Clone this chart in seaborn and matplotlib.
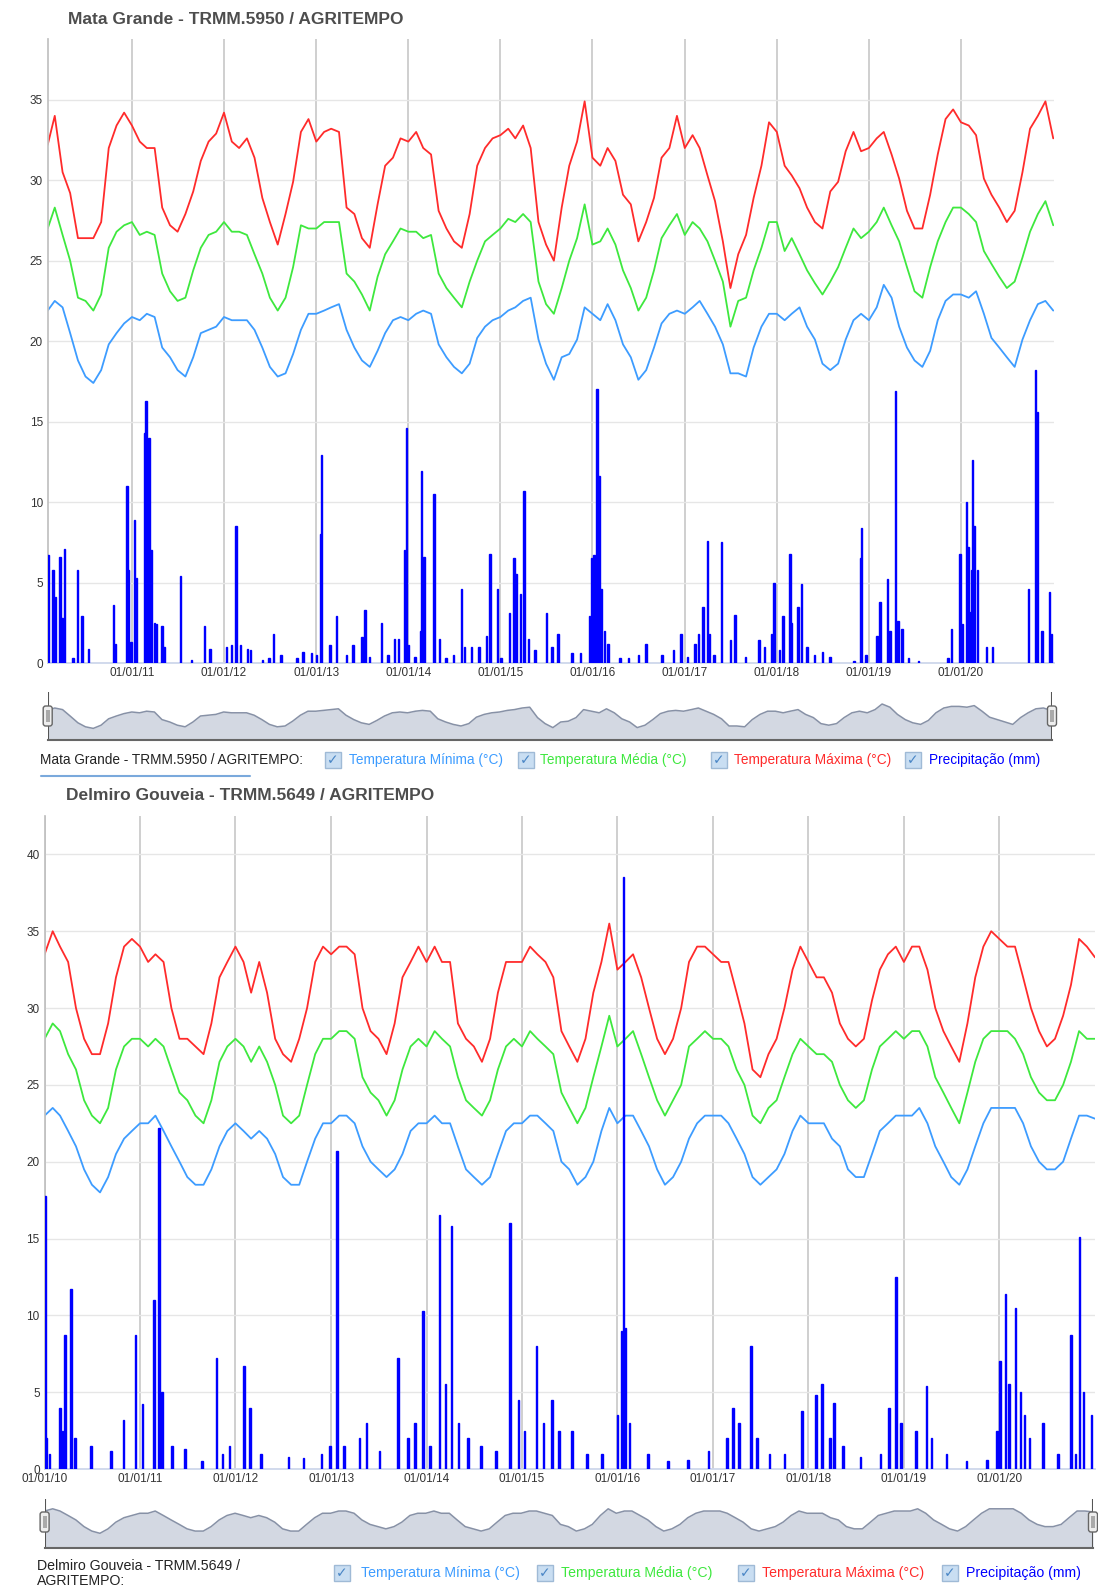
import pandas as pd
import matplotlib
matplotlib.use("Agg")
import matplotlib.pyplot as plt
import matplotlib.dates as mdates
from matplotlib.patches import FancyBboxPatch, Rectangle
from matplotlib.lines import Line2D
import seaborn as sns

# --------------------------
# Data: Mata Grande (monthly readings, Feb/2010 .. Jan/2021)
# --------------------------
mg_months = pd.date_range("2010-02-01", "2021-01-01", freq="MS")

mg_tmax = [32.2, 34.0, 30.5, 29.2, 26.4, 26.4, 26.4, 27.4, 32.0, 33.4, 34.2,
           33.4, 32.4, 32.0, 32.0, 28.3, 27.2, 26.8, 27.9, 29.3, 31.2, 32.4, 32.9,
           34.2, 32.4, 32.0, 32.6, 31.4, 28.9, 27.4, 26.0, 27.9, 29.9, 33.0, 33.8,
           32.4, 33.0, 33.2, 33.0, 28.3, 27.9, 26.4, 25.8, 28.5, 30.9, 31.4, 32.6,
           32.4, 33.0, 32.0, 31.6, 28.1, 27.0, 26.2, 25.8, 27.9, 30.9, 32.0, 32.6,
           32.8, 33.2, 32.6, 33.4, 32.0, 27.4, 26.0, 25.0, 28.3, 30.9, 32.4, 34.9,
           31.4, 30.9, 32.0, 31.2, 29.1, 28.5, 26.2, 27.4, 28.9, 31.4, 32.0, 34.0,
           32.0, 32.8, 32.0, 30.3, 28.7, 26.2, 23.3, 25.4, 26.6, 28.9, 30.9, 33.6,
           33.0, 30.9, 30.3, 29.5, 28.3, 27.4, 27.0, 29.3, 29.9, 31.8, 33.0, 31.8,
           32.0, 32.6, 33.0, 31.6, 30.1, 28.1, 27.0, 27.0, 29.1, 31.6, 33.8, 34.4,
           33.6, 33.4, 32.8, 30.1, 29.1, 28.3, 27.4, 28.1, 30.5, 33.2, 34.0, 34.9,
           32.6]

mg_tmed = [27.0, 28.3, 26.6, 25.0, 22.7, 22.5, 21.9, 22.9, 25.8, 26.8, 27.2,
           27.4, 26.6, 26.8, 26.6, 24.2, 23.1, 22.5, 22.7, 24.4, 25.8, 26.6, 26.8,
           27.4, 26.8, 26.8, 26.6, 25.4, 24.2, 22.7, 21.9, 22.7, 24.6, 27.2, 27.0,
           27.0, 27.4, 27.4, 27.4, 24.2, 23.7, 22.9, 21.9, 24.0, 25.4, 26.2, 27.0,
           26.8, 26.8, 26.4, 26.6, 24.2, 23.3, 22.7, 22.1, 23.7, 25.0, 26.2, 26.6,
           27.0, 27.6, 27.4, 27.9, 27.4, 23.7, 22.3, 21.7, 23.3, 25.0, 26.4, 28.5,
           26.0, 26.2, 27.0, 26.0, 24.4, 23.3, 21.9, 22.7, 24.4, 26.4, 27.2, 27.9,
           26.6, 27.4, 27.0, 26.2, 25.0, 23.7, 20.9, 22.5, 22.7, 24.4, 25.8, 27.4,
           27.4, 25.6, 26.4, 25.4, 24.4, 23.6, 22.9, 23.7, 24.6, 25.8, 27.0, 26.4,
           26.8, 27.4, 28.3, 27.2, 26.2, 24.6, 23.1, 22.7, 24.6, 26.2, 27.4, 28.3,
           28.3, 27.9, 27.4, 25.6, 24.8, 24.0, 23.3, 23.7, 25.2, 26.8, 27.9, 28.7,
           27.2]

mg_tmin = [21.9, 22.5, 22.1, 20.5, 18.8, 17.8, 17.4, 18.2, 19.8, 20.5, 21.1,
           21.5, 21.3, 21.7, 21.5, 19.6, 19.0, 18.2, 17.8, 19.0, 20.5, 20.7, 20.9,
           21.5, 21.3, 21.3, 21.3, 20.7, 19.6, 18.4, 17.8, 18.0, 19.2, 20.7, 21.7,
           21.7, 21.9, 22.1, 22.3, 20.7, 19.6, 18.8, 18.4, 19.4, 20.5, 21.3, 21.5,
           21.3, 21.7, 21.9, 21.7, 19.8, 19.0, 18.4, 18.0, 18.6, 20.2, 20.9, 21.3,
           21.5, 21.9, 22.1, 22.5, 22.7, 20.1, 18.6, 17.6, 19.0, 19.2, 20.1, 22.1,
           21.7, 21.3, 22.3, 21.3, 19.8, 19.0, 17.6, 18.2, 19.6, 21.1, 21.7, 21.9,
           21.7, 22.1, 22.5, 21.7, 20.9, 19.8, 18.0, 18.0, 17.8, 19.6, 20.9, 21.7,
           21.7, 21.3, 21.7, 22.1, 20.9, 20.1, 18.6, 18.2, 18.6, 20.1, 21.3, 21.7,
           21.3, 22.1, 23.5, 22.7, 20.9, 19.6, 18.8, 18.4, 19.4, 21.3, 22.5, 22.9,
           22.9, 22.7, 23.1, 21.7, 20.2, 19.6, 19.0, 18.4, 20.1, 21.3, 22.3, 22.5,
           21.9]

mg_rain_dates = [
    "2010-02-03", "2010-02-23", "2010-03-04", "2010-03-22", "2010-03-29", "2010-04-09",
    "2010-05-12", "2010-05-30", "2010-06-17", "2010-07-13", "2010-10-19", "2010-10-27",
    "2010-12-13", "2010-12-17", "2010-12-28", "2011-01-11", "2011-01-19", "2011-02-22",
    "2011-02-25", "2011-03-10", "2011-03-17", "2011-04-01", "2011-04-08", "2011-05-01",
    "2011-05-08", "2011-07-13", "2011-08-26", "2011-10-16", "2011-11-07", "2012-01-11",
    "2012-01-30", "2012-02-17", "2012-03-06", "2012-04-04", "2012-04-15", "2012-06-02",
    "2012-06-28", "2012-07-16", "2012-08-14", "2012-10-16", "2012-11-10", "2012-12-13",
    "2013-01-02", "2013-01-18", "2013-01-22", "2013-02-25", "2013-03-23", "2013-05-01",
    "2013-05-26", "2013-07-02", "2013-07-13", "2013-07-31", "2013-09-17", "2013-10-12",
    "2013-11-07", "2013-11-22", "2013-12-17", "2013-12-24", "2014-01-01", "2014-01-27",
    "2014-02-18", "2014-02-22", "2014-03-04", "2014-04-13", "2014-05-05", "2014-05-31",
    "2014-06-29", "2014-07-31", "2014-08-11", "2014-09-09", "2014-10-08", "2014-11-06",
    "2014-11-21", "2014-12-20", "2015-01-04", "2015-02-06", "2015-02-24", "2015-03-04",
    "2015-03-22", "2015-04-05", "2015-04-23", "2015-05-19", "2015-07-02", "2015-07-24",
    "2015-08-18", "2015-10-12", "2015-11-14", "2015-12-20", "2015-12-28", "2016-01-08",
    "2016-01-19", "2016-01-26", "2016-02-03", "2016-02-17", "2016-03-03", "2016-04-20",
    "2016-05-23", "2016-07-02", "2016-07-31", "2016-10-02", "2016-11-18", "2016-12-17",
    "2017-01-11", "2017-02-10", "2017-02-25", "2017-03-15", "2017-04-02", "2017-04-09",
    "2017-04-27", "2017-05-26", "2017-07-02", "2017-07-20", "2017-08-29", "2017-10-23",
    "2017-11-14", "2017-12-10", "2017-12-21", "2018-01-11", "2018-01-26", "2018-02-22",
    "2018-02-28", "2018-03-25", "2018-04-09", "2018-05-01", "2018-05-31", "2018-07-02",
    "2018-07-31", "2018-11-03", "2018-11-28", "2018-12-02", "2018-12-20", "2019-02-03",
    "2019-02-14", "2019-03-15", "2019-03-26", "2019-04-16", "2019-04-27", "2019-05-12",
    "2019-06-07", "2019-07-16", "2019-11-10", "2019-11-25", "2019-12-28", "2020-01-08",
    "2020-01-23", "2020-01-30", "2020-02-07", "2020-02-11", "2020-02-15", "2020-02-21",
    "2020-03-07", "2020-04-12", "2020-05-05", "2020-09-24", "2020-10-23", "2020-10-30",
    "2020-11-18", "2020-12-17", "2020-12-25"]
mg_rain = [6.7, 5.8, 4.1, 6.6, 2.8, 7.1,
           0.3, 5.8, 2.9, 0.9, 3.6, 1.2,
           11.0, 5.8, 1.3, 8.9, 5.3, 14.3,
           16.3, 14.0, 7.0, 2.5, 2.4, 2.3,
           1.0, 5.4, 0.2, 2.3, 0.9, 1.0,
           1.1, 8.5, 1.1, 0.9, 0.8, 0.2,
           0.3, 1.8, 0.5, 0.3, 0.7, 0.6,
           0.5, 8.0, 12.9, 1.1, 2.9, 0.5,
           1.1, 1.6, 3.3, 0.4, 2.5, 0.5,
           1.5, 1.5, 7.0, 14.6, 1.1, 0.4,
           2.0, 11.9, 6.6, 10.5, 1.5, 0.3,
           0.5, 4.6, 1.0, 1.0, 1.0, 1.7,
           6.8, 4.6, 0.3, 3.1, 6.5, 5.5,
           4.3, 10.7, 1.5, 0.8, 3.1, 1.0,
           1.8, 0.6, 0.6, 2.9, 6.5, 6.7,
           17.0, 11.6, 4.6, 2.0, 1.2, 0.3,
           0.3, 0.5, 1.2, 0.5, 0.8, 1.8,
           0.4, 1.2, 1.8, 3.5, 7.6, 1.8,
           0.5, 7.5, 1.4, 3.0, 0.4, 1.4,
           1.0, 1.8, 5.0, 0.8, 2.9, 6.8,
           2.5, 3.5, 4.9, 1.0, 0.5, 0.7,
           0.4, 0.1, 6.5, 8.4, 0.5, 1.7,
           3.8, 5.2, 2.0, 16.9, 2.6, 2.1,
           0.3, 0.1, 0.3, 2.1, 6.8, 2.4,
           10.0, 7.2, 3.2, 5.8, 12.6, 8.5,
           5.8, 1.0, 1.0, 4.6, 18.2, 15.6,
           2.0, 4.4, 1.8]

# --------------------------
# Data: Delmiro Gouveia (monthly readings, Jan/2010 .. Jan/2021)
# --------------------------
dg_months = pd.date_range("2010-01-01", "2021-01-01", freq="MS")

dg_tmax = [33.5, 35.0, 34.0, 33.0, 30.0, 28.0, 27.0, 27.0, 29.0, 32.0, 34.0, 34.5,
           34.0, 33.0, 33.5, 33.0, 30.0, 28.0, 28.0, 27.5, 27.0, 29.0, 32.0, 33.0,
           34.0, 33.0, 31.0, 33.0, 31.0, 28.0, 27.0, 26.5, 28.0, 30.0, 33.0, 34.0,
           33.5, 34.0, 34.0, 33.5, 30.0, 28.5, 28.0, 27.0, 29.0, 32.0, 33.0, 34.0,
           33.0, 34.0, 33.0, 33.0, 29.0, 28.0, 27.5, 26.5, 28.0, 31.0, 33.0, 33.0,
           33.0, 34.0, 33.5, 33.0, 32.0, 28.5, 27.5, 26.5, 28.0, 31.0, 33.0, 35.5,
           32.5, 33.0, 33.5, 32.0, 30.0, 28.0, 27.0, 28.0, 30.0, 33.0, 34.0, 34.0,
           33.5, 33.0, 33.0, 31.0, 29.0, 26.0, 25.5, 27.0, 28.0, 30.0, 32.5, 34.0,
           33.0, 32.0, 32.0, 31.0, 29.0, 28.0, 27.5, 28.0, 30.5, 32.5, 33.5, 34.0,
           33.0, 34.0, 34.0, 32.5, 30.0, 28.5, 27.5, 26.5, 29.0, 32.0, 34.0, 35.0,
           34.5, 34.0, 34.0, 32.0, 30.0, 28.5, 27.5, 28.0, 29.5, 31.5, 34.5, 34.0,
           33.3]

dg_tmed = [28.0, 29.0, 28.5, 27.0, 26.0, 24.0, 23.0, 22.5, 23.5, 26.0, 27.5, 28.0,
           28.0, 27.5, 28.0, 27.5, 26.0, 24.5, 24.0, 23.0, 22.5, 24.0, 26.5, 27.5,
           28.0, 27.5, 26.5, 27.5, 26.5, 25.0, 23.0, 22.5, 23.0, 25.0, 27.0, 28.0,
           28.0, 28.5, 28.5, 28.0, 25.5, 24.5, 24.0, 23.0, 24.0, 26.0, 27.5, 28.0,
           27.5, 28.5, 28.0, 27.5, 25.5, 24.0, 23.5, 23.0, 24.0, 26.0, 27.5, 28.0,
           27.5, 28.5, 28.0, 27.5, 27.0, 24.5, 23.5, 22.5, 23.5, 25.5, 27.5, 29.5,
           27.5, 28.0, 28.5, 27.0, 25.5, 24.0, 23.0, 24.0, 25.0, 27.5, 28.0, 28.5,
           28.0, 28.0, 27.5, 26.0, 25.0, 23.0, 22.5, 23.5, 24.0, 25.5, 27.0, 28.0,
           27.5, 27.0, 27.0, 26.5, 25.0, 24.0, 23.5, 24.0, 26.0, 27.5, 28.0, 28.5,
           28.0, 28.5, 28.5, 27.5, 25.5, 24.5, 23.5, 22.5, 24.5, 26.5, 28.0, 28.5,
           28.5, 28.5, 28.0, 27.0, 25.5, 24.5, 24.0, 24.0, 25.0, 26.5, 28.5, 28.0,
           28.0]

dg_tmin = [23.0, 23.5, 23.0, 22.0, 21.0, 19.5, 18.5, 18.0, 19.0, 20.5, 21.5, 22.0,
           22.5, 22.5, 23.0, 22.0, 21.0, 20.0, 19.0, 18.5, 18.5, 19.5, 21.0, 22.0,
           22.5, 22.0, 21.5, 22.0, 21.5, 20.5, 19.0, 18.5, 18.5, 20.0, 21.5, 22.5,
           22.5, 23.0, 23.0, 22.5, 21.0, 20.0, 19.5, 19.0, 19.5, 20.5, 22.0, 22.5,
           22.5, 23.0, 22.5, 22.5, 21.0, 19.5, 19.0, 18.5, 19.0, 20.5, 22.0, 22.5,
           22.5, 23.0, 23.0, 22.5, 22.0, 20.0, 19.5, 18.5, 19.0, 20.0, 22.0, 23.5,
           22.5, 23.0, 23.0, 22.0, 21.0, 19.5, 18.5, 19.0, 20.0, 21.5, 22.5, 23.0,
           23.0, 23.0, 22.5, 21.5, 20.5, 19.0, 18.5, 19.0, 19.5, 20.5, 22.0, 23.0,
           22.5, 22.5, 22.5, 21.5, 21.0, 19.5, 19.0, 19.0, 20.5, 22.0, 22.5, 23.0,
           23.0, 23.0, 23.5, 22.5, 21.0, 20.0, 19.0, 18.5, 19.5, 21.0, 22.5, 23.5,
           23.5, 23.5, 23.5, 22.5, 21.0, 20.0, 19.5, 19.5, 20.0, 21.5, 23.0, 23.0,
           22.8]

dg_rain_dates = [
    "2010-01-02", "2010-01-06", "2010-01-20", "2010-02-28", "2010-03-10", "2010-03-21",
    "2010-04-13", "2010-04-28", "2010-06-27", "2010-09-13", "2010-10-29", "2010-12-15",
    "2011-01-11", "2011-02-23", "2011-03-14", "2011-03-25", "2011-05-03", "2011-06-22",
    "2011-08-27", "2011-10-20", "2011-11-12", "2011-12-09", "2012-02-02", "2012-02-25",
    "2012-04-08", "2012-07-22", "2012-09-18", "2012-11-26", "2012-12-28", "2013-01-24",
    "2013-02-20", "2013-04-19", "2013-05-16", "2013-07-05", "2013-09-13", "2013-10-22",
    "2013-11-18", "2013-12-19", "2014-01-15", "2014-02-19", "2014-03-14", "2014-04-07",
    "2014-05-04", "2014-06-08", "2014-07-28", "2014-09-24", "2014-11-17", "2014-12-18",
    "2015-01-10", "2015-02-26", "2015-03-25", "2015-04-25", "2015-05-22", "2015-07-11",
    "2015-09-07", "2015-11-04", "2016-01-01", "2016-01-16", "2016-01-24", "2016-02-01",
    "2016-02-16", "2016-04-27", "2016-07-13", "2016-09-28", "2016-12-15", "2017-02-23",
    "2017-03-18", "2017-04-10", "2017-05-27", "2017-06-19", "2017-08-05", "2017-10-02",
    "2017-12-07", "2018-01-30", "2018-02-22", "2018-03-25", "2018-04-09", "2018-05-14",
    "2018-07-19", "2018-10-04", "2018-11-04", "2018-12-01", "2018-12-20", "2019-02-17",
    "2019-03-28", "2019-04-16", "2019-06-13", "2019-08-29", "2019-11-15", "2019-12-24",
    "2020-01-04", "2020-01-24", "2020-02-08", "2020-03-03", "2020-03-22", "2020-04-07",
    "2020-04-26", "2020-06-16", "2020-08-13", "2020-10-02", "2020-10-18", "2020-11-02",
    "2020-11-18", "2020-12-18"]
dg_rain = [17.8, 2.0, 1.0, 4.0, 2.5, 8.7,
           11.7, 2.0, 1.5, 1.2, 3.2, 8.7,
           4.2, 11.0, 22.2, 5.0, 1.5, 1.3,
           0.5, 7.2, 1.0, 1.5, 6.7, 4.0,
           1.0, 0.8, 0.7, 1.0, 1.5, 20.7,
           1.5, 2.0, 3.0, 1.2, 7.2, 2.0,
           3.0, 10.3, 1.5, 16.5, 5.5, 15.8,
           3.0, 2.0, 1.5, 1.2, 16.0, 4.5,
           2.5, 8.0, 3.0, 4.5, 2.5, 2.5,
           1.0, 1.0, 3.5, 9.0, 38.5, 9.2,
           3.0, 1.0, 0.5, 0.6, 1.2, 2.0,
           4.0, 3.0, 8.0, 2.0, 1.0, 1.0,
           3.8, 4.8, 5.5, 2.0, 4.3, 1.5,
           0.8, 1.0, 4.0, 12.5, 3.0, 2.5,
           5.4, 2.0, 1.0, 0.5, 0.6, 2.5,
           7.0, 11.4, 5.5, 10.5, 5.0, 3.5,
           2.0, 3.0, 1.0, 8.7, 1.0, 15.1,
           5.0, 3.5]

series_names = ["Temperatura Mínima (°C)", "Temperatura Média (°C)",
                "Temperatura Máxima (°C)", "Precipitação (mm)"]
series_colors = ["#3d9cff", "#3ee83e", "#ff2b2b", "#0000ff"]

# --------------------------
# Figure setup
# --------------------------
sns.set_theme(style="white")
plt.rcParams['font.family'] = ['Liberation Sans', 'DejaVu Sans']

W, H = 1098, 1589
fig = plt.figure(figsize=(W / 100, H / 100), dpi=100)


def px_axes(x0, y0, x1, y1):
    return fig.add_axes([x0 / W, 1 - y1 / H, (x1 - x0) / W, (y1 - y0) / H])


def draw_panel(box, months, tmin, tmed, tmax, rdates, rain, xlim, ylim, yticks, years):
    ax = px_axes(*box)
    for vals, col in zip([tmin, tmed, tmax], series_colors[:3]):
        sns.lineplot(x=months, y=vals, ax=ax, color=col, linewidth=1.3)
    ax.bar(pd.to_datetime(rdates), rain, width=6, color=series_colors[3],
           edgecolor=series_colors[3], linewidth=1.0, zorder=3)
    ax.set_xlim(pd.Timestamp(xlim[0]), pd.Timestamp(xlim[1]))
    ax.set_ylim(*ylim)
    ax.set_yticks(yticks)
    ax.set_xticks([pd.Timestamp(f"{y}-01-01") for y in years])
    ax.xaxis.set_major_formatter(mdates.DateFormatter("%d/%m/%y"))
    ax.set_xlabel("")
    ax.set_ylabel("")
    ax.set_axisbelow(True)
    ax.grid(axis="y", color="#e6e6e6", lw=1)
    ax.grid(axis="x", color="#cccccc", lw=1.3)
    ax.tick_params(axis="y", length=0, pad=3.5, labelsize=8.5, labelcolor="#333333")
    ax.tick_params(axis="x", length=0, pad=3, labelsize=8.5, labelcolor="#333333")
    for s in ["top", "right"]:
        ax.spines[s].set_visible(False)
    ax.spines["left"].set_color("#c0c0c0")
    ax.spines["bottom"].set_color("#ccd6eb")
    return ax


def draw_nav(box, months, vals, xlim, ylim):
    nx = px_axes(*box)
    nx.fill_between(months, vals, ylim[0], color="#d3d8e2", lw=0)
    sns.lineplot(x=months, y=vals, ax=nx, color="#8791a6", linewidth=1.1)
    nx.set_xlim(pd.Timestamp(xlim[0]), pd.Timestamp(xlim[1]))
    nx.set_ylim(*ylim)
    nx.set_xticks([])
    nx.set_yticks([])
    nx.set_xlabel("")
    nx.set_ylabel("")
    for s in ["top", "right", "left"]:
        nx.spines[s].set_visible(False)
    nx.spines["bottom"].set_color("#666666")
    nx.spines["bottom"].set_linewidth(1.5)
    nx.axvline(pd.Timestamp(xlim[0]), color="#555555", lw=1.5)
    nx.axvline(pd.Timestamp(xlim[1]), color="#555555", lw=1.5)
    return nx


def handle(cx, cy):
    w, h = 9, 20
    outer = FancyBboxPatch(((cx - w / 2) / 100, (H - cy - h / 2) / 100), w / 100, h / 100,
                           boxstyle="round,pad=0,rounding_size=0.025",
                           transform=fig.dpi_scale_trans, facecolor="#eeeeee",
                           edgecolor="#666666", lw=1, zorder=10)
    fig.add_artist(outer)
    inner = Rectangle(((cx - 2) / 100, (H - cy - 6) / 100), 4 / 100, 12 / 100,
                      transform=fig.dpi_scale_trans, facecolor="#aaaaaa",
                      edgecolor="none", zorder=11)
    fig.add_artist(inner)


def checkbox(cx, cy):
    s = 16
    box = Rectangle(((cx - s / 2) / 100, (H - cy - s / 2) / 100), s / 100, s / 100,
                    transform=fig.dpi_scale_trans, facecolor="#c9def2",
                    edgecolor="#9fbad6", lw=1, zorder=10)
    fig.add_artist(box)
    fig.text(cx / W, 1 - cy / H, "\u2713", ha="center", va="center",
             color="#4a86c5", fontsize=10, family="DejaVu Sans", zorder=11)


def legend_row(cy, label_x, label_lines, cb_x, txt_x, size):
    for i, line in enumerate(label_lines):
        fig.text(label_x / W, 1 - (cy + i * 15) / H, line, ha="left",
                 va="center", fontsize=size, color="#222222")
    row_y = cy if len(label_lines) == 1 else cy + 7
    for cx, tx, name, col in zip(cb_x, txt_x, series_names, series_colors):
        checkbox(cx, row_y)
        fig.text(tx / W, 1 - row_y / H, name, ha="left", va="center",
                 fontsize=size, color=col)


# --------------------------
# Panel 1: Mata Grande
# --------------------------
fig.text(68 / W, 1 - 19 / H, "Mata Grande - TRMM.5950 / AGRITEMPO",
         fontsize=12.5, fontweight="bold", color="#4d4d4d", va="center")
draw_panel((47.7, 38.6, 1054, 663), mg_months, mg_tmin, mg_tmed, mg_tmax,
           mg_rain_dates, mg_rain, ("2010-02-01", "2021-01-04"), (0, 38.8),
           range(0, 36, 5), range(2011, 2021))
draw_nav((47.7, 692, 1052, 740), mg_months, mg_tmin,
         ("2010-02-01", "2021-01-04"), (14.5, 26.5))
handle(47.7, 716)
handle(1052, 716)

legend_row(760, 40, ["Mata Grande - TRMM.5950 / AGRITEMPO:"],
           [333, 526, 719, 913], [349, 540, 734, 929], 9.8)
fig.add_artist(Line2D([41 / W, 250 / W], [1 - 776 / H] * 2, color="#7aa9dc",
                      lw=1.5, transform=fig.transFigure))

# --------------------------
# Panel 2: Delmiro Gouveia
# --------------------------
fig.text(66 / W, 1 - 796 / H, "Delmiro Gouveia - TRMM.5649 / AGRITEMPO",
         fontsize=12.5, fontweight="bold", color="#4d4d4d", va="center")
draw_panel((44.6, 816, 1095, 1469), dg_months, dg_tmin, dg_tmed, dg_tmax,
           dg_rain_dates, dg_rain, ("2010-01-01", "2021-01-01"), (0, 42.5),
           range(0, 41, 5), range(2010, 2021))
draw_nav((44.6, 1499, 1093, 1548), dg_months, dg_tmin,
         ("2010-01-01", "2021-01-01"), (14.7, 25.7))
handle(44.6, 1522)
handle(1093, 1522)

legend_row(1566, 37, ["Delmiro Gouveia - TRMM.5649 /", "AGRITEMPO:"],
           [342, 545, 746, 950], [361, 561, 762, 966], 10.2)

plt.savefig("out.png", dpi=100)
